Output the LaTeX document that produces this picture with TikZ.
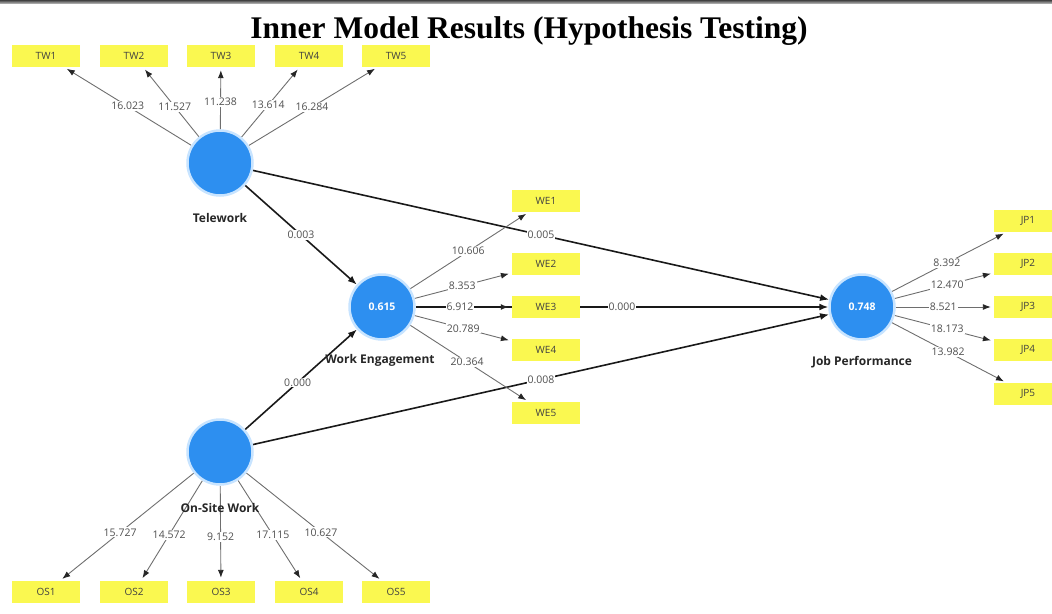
\documentclass[tikz,border=0pt]{standalone}
\usepackage{fontspec}
\setmainfont{Liberation Serif}
\newfontfamily\uifont{Open Sans}
\usetikzlibrary{arrows.meta,backgrounds}
\definecolor{lvblue}{RGB}{45,143,240}
\definecolor{halo}{RGB}{200,228,255}
\definecolor{indyellow}{RGB}{250,248,80}
\definecolor{lbl}{RGB}{80,80,80}
\definecolor{lnk}{RGB}{110,110,110}
\begin{document}
\begin{tikzpicture}[x=1pt,y=-1pt,
  latent/.style={circle, fill=lvblue, draw=halo, line width=2.5pt, minimum size=65pt, inner sep=0pt, text=white, font=\uifont\bfseries\fontsize{10.5}{12}\selectfont},
  ind/.style={rectangle, fill=indyellow, minimum width=68pt, minimum height=22pt, inner sep=0pt, font=\uifont\fontsize{10}{12}\selectfont, text=black!75},
  lname/.style={font=\uifont\bfseries\fontsize{12}{14}\selectfont, text=black!85},
  load/.style={draw=lnk, line width=0.9pt, -{Latex[length=8pt,width=6pt,color=black!85]}, shorten >=3pt},
  struct/.style={draw=black!90, line width=1.6pt, -{Latex[length=9pt,width=7pt]}},
  val/.style={fill=white, inner sep=1pt, text=lbl, font=\uifont\fontsize{10.5}{12}\selectfont},
]
\useasboundingbox (0,0) rectangle (1052,613);
\shade[top color=black!75, bottom color=black!35] (0,0) rectangle (1052,3);

\node (title) at (529,31) {\fontsize{31.5}{34}\selectfont\bfseries Inner Model Results (Hypothesis Testing)};

% latent variables
\node[latent] (TW) at (220,163) {};
\node[latent] (WE) at (382,307) {0.615};
\node[latent] (JP) at (862,307) {0.748};
\node[latent] (OS) at (220,452) {};

\node[lname] (TWn) at (220,218) {Telework};
\node[lname] (WEn) at (380,360) {Work Engagement};
\node[lname] (JPn) at (862,362) {Job Performance};
\node[lname] (OSn) at (220,508) {On-Site Work};

% indicators
\node[ind] (TW1) at (46,56) {TW1};
\node[ind] (TW2) at (134,56) {TW2};
\node[ind] (TW3) at (221,56) {TW3};
\node[ind] (TW4) at (309,56) {TW4};
\node[ind] (TW5) at (396,56) {TW5};

\node[ind] (OS1) at (46,592) {OS1};
\node[ind] (OS2) at (134,592) {OS2};
\node[ind] (OS3) at (221,592) {OS3};
\node[ind] (OS4) at (309,592) {OS4};
\node[ind] (OS5) at (396,592) {OS5};

\node[ind] (WE1) at (546,201) {WE1};
\node[ind] (WE2) at (546,264) {WE2};
\node[ind] (WE3) at (546,307) {WE3};
\node[ind] (WE4) at (546,350) {WE4};
\node[ind] (WE5) at (546,413) {WE5};

\node[ind] (JP1) at (1028,221) {JP1};
\node[ind] (JP2) at (1028,264) {JP2};
\node[ind] (JP3) at (1028,307) {JP3};
\node[ind] (JP4) at (1028,350) {JP4};
\node[ind] (JP5) at (1028,394) {JP5};

\begin{scope}[on background layer]
% structural paths
\draw[struct] (TW) -- node[val,pos=0.5]{0.003} (WE);
\draw[struct] (TW) -- node[val,pos=0.5]{0.005} (JP);
\draw[struct] (OS) -- node[val,pos=0.47]{0.000} (WE);
\draw[struct] (OS) -- node[val,pos=0.5]{0.008} (JP);
\draw[struct] (WE) -- node[val,pos=0.5]{0.000} (JP);

% loadings
\draw[load] (TW) -- node[val,pos=0.5]{16.023} (TW1);
\draw[load] (TW) -- node[val,pos=0.43]{11.527} (TW2);
\draw[load] (TW) -- node[val,pos=0.44]{11.238} (TW3);
\draw[load] (TW) -- node[val,pos=0.46]{13.614} (TW4);
\draw[load] (TW) -- node[val,pos=0.49]{16.284} (TW5);

\draw[load] (OS) -- node[val,pos=0.55]{15.727} (OS1);
\draw[load] (OS) -- node[val,pos=0.54]{14.572} (OS2);
\draw[load] (OS) -- node[val,pos=0.54]{9.152} (OS3);
\draw[load] (OS) -- node[val,pos=0.545]{17.115} (OS4);
\draw[load] (OS) -- node[val,pos=0.55]{10.627} (OS5);

\draw[load] (WE) -- node[val,pos=0.49]{10.606} (WE1);
\draw[load] (WE) -- node[val,pos=0.49]{8.353} (WE2);
\draw[load,draw=black!90,line width=1.6pt] (WE) -- node[val,pos=0.46]{6.912} (WE3);
\draw[load] (WE) -- node[val,pos=0.5]{20.789} (WE4);
\draw[load] (WE) -- node[val,pos=0.48]{20.364} (WE5);

\draw[load] (JP) -- node[val,pos=0.48]{8.392} (JP1);
\draw[load] (JP) -- node[val,pos=0.53]{12.470} (JP2);
\draw[load] (JP) -- node[val,pos=0.485]{8.521} (JP3);
\draw[load] (JP) -- node[val,pos=0.53]{18.173} (JP4);
\draw[load] (JP) -- node[val,pos=0.49]{13.982} (JP5);
\end{scope}
\end{tikzpicture}
\end{document}
